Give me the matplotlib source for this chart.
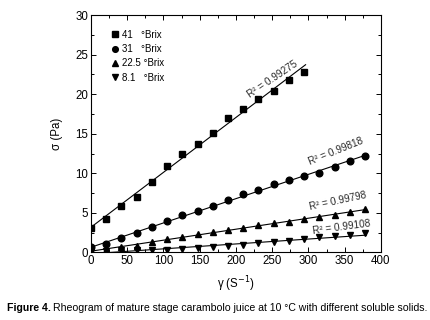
import numpy as np
import matplotlib
matplotlib.use("Agg")
import matplotlib.pyplot as plt
from matplotlib import font_manager
from matplotlib.ticker import MultipleLocator

names = {f.name for f in font_manager.fontManager.ttflist}
FONT = "Liberation Sans Narrow" if "Liberation Sans Narrow" in names else "Liberation Sans"
plt.rcParams["font.family"] = [FONT, "DejaVu Sans"]

# Data
shear_rate = [0, 21, 42, 63, 84, 105, 126, 147, 168, 189, 210, 231, 252, 273, 294, 315, 336, 357, 378]
stress_41 = [3.1, 4.2, 5.85, 7.05, 8.95, 10.95, 12.4, 13.7, 15.1, 17.0, 18.1, 19.4, 20.4, 21.8, 22.8]
stress_31 = [0.65, 1.03, 1.79, 2.5, 3.2, 3.97, 4.69, 5.3, 5.9, 6.62, 7.34, 7.88, 8.6, 9.14, 9.65, 10.1, 10.82, 11.54, 12.13]
stress_22 = [0.25, 0.35, 0.7, 0.85, 1.35, 1.65, 2.0, 2.3, 2.6, 2.85, 3.05, 3.45, 3.7, 3.9, 4.2, 4.45, 4.75, 5.15, 5.45]
stress_8 = [0.05, 0.15, 0.3, 0.35, 0.3, 0.35, 0.5, 0.6, 0.7, 0.8, 0.95, 1.15, 1.35, 1.45, 1.65, 1.9, 2.05, 2.2, 2.4]
labels = ["41   °Brix", "31   °Brix", "22.5 °Brix", "8.1   °Brix"]
r2_texts = ["R² = 0.99275", "R² = 0.99818", "R² = 0.99798", "R² = 0.99108"]

series = [stress_41, stress_31, stress_22, stress_8]
markers = ["s", "o", "^", "v"]

fig = plt.figure(figsize=(4.3, 3.2), dpi=100)
ax = fig.add_axes([0.2116, 0.211, 0.6744, 0.742])

for ys, m, lab in zip(series, markers, labels):
    xs = np.array(shear_rate[:len(ys)], dtype=float)
    ys = np.array(ys)
    ax.plot(xs, ys, linestyle="none", marker=m, color="black", markersize=4.8, label=lab)
    k, b = np.polyfit(xs, ys, 1)
    xl = np.array([0, xs[-1] + 2])
    ax.plot(xl, k * xl + b, color="black", lw=0.8)

# R² annotations
r2_pos = [(250, 21.9, 34), (338, 12.8, 22), (341, 6.45, 12), (345, 3.15, 7.5)]
for t, (x, y, r) in zip(r2_texts, r2_pos):
    ax.text(x, y, t, rotation=r, ha="center", va="center", fontsize=7.2, color="#2a2a2a",
            rotation_mode="anchor")

ax.set_xlim(0, 400)
ax.set_ylim(0, 30)
ax.xaxis.set_major_locator(MultipleLocator(50))
ax.xaxis.set_minor_locator(MultipleLocator(25))
ax.yaxis.set_major_locator(MultipleLocator(5))
ax.yaxis.set_minor_locator(MultipleLocator(2.5))
ax.tick_params(which="both", direction="in", top=True, right=True, labelsize=8.3, width=0.7,
               colors="black", pad=2)
ax.tick_params(which="major", length=3.5)
ax.tick_params(which="minor", length=2)
for s in ax.spines.values():
    s.set_linewidth(0.8)

ax.set_xlabel("γ (S$^{-1}$)", fontsize=8.3, labelpad=5)
ax.set_ylabel("σ (Pa)", fontsize=8.3, labelpad=9)

leg = ax.legend(loc="upper left", frameon=False, fontsize=7.0, handlelength=0.8,
                handletextpad=0.4, labelspacing=0.45, borderaxespad=0.0,
                markerscale=0.85, bbox_to_anchor=(0.055, 0.955))

fig.canvas.draw()
r = fig.canvas.get_renderer()
cap_y = 0.038
t1 = fig.text(0.016, cap_y, "Figure 4.", fontsize=7.6, fontweight="bold", ha="left", va="center")
bb = t1.get_window_extent(renderer=r)
x2 = (bb.x1 + 2.5) / fig.bbox.width
fig.text(x2, cap_y, "Rheogram of mature stage carambolo juice at 10 °C with different soluble solids.",
         fontsize=7.6, ha="left", va="center")

fig.savefig("out.png", dpi=100)
